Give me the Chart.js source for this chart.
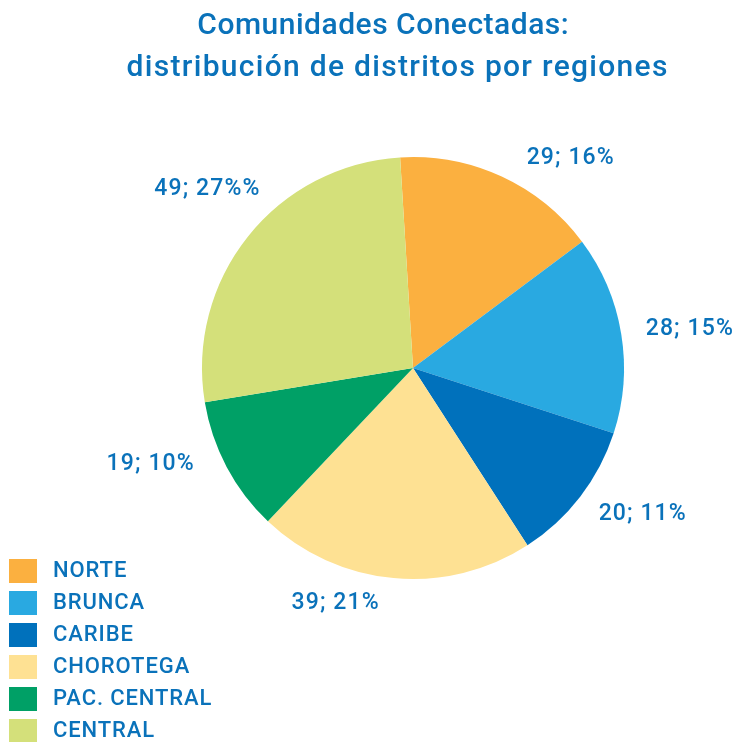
<!DOCTYPE html>
<html><head><meta charset="utf-8">
<script src="https://cdn.jsdelivr.net/npm/chart.js@4.4.1/dist/chart.umd.min.js"></script>
<style>html,body{margin:0;padding:0;background:#fff;}#wrap{width:736px;height:742px;}</style>
</head><body><div id="wrap"><canvas id="c" width="736" height="742"></canvas></div>
<script>
const categories = ['NORTE','BRUNCA','CARIBE','CHOROTEGA','PAC. CENTRAL','CENTRAL'];
const values = [29, 28, 20, 39, 19, 49];
const labelTexts = ['29; 16%','28; 15%','20; 11%','39; 21%','19; 10%','49; 27%%'];
const titleLines = ['Comunidades Conectadas:', 'distribución de distritos por regiones'];

const colors = ['#FBB040','#29A9E1','#0071BC','#FEE193','#00A066','#D4E07A'];
const textColor = '#0A72BA';
const FONT = 'Roboto, "Liberation Sans", Arial, sans-serif';
// label placement style: angle nudge (deg) from slice mid-angle, distance from centre (px)
const labelNudgeDeg = [12, 1.4, -5, 13, 7.8, 2.4];
const labelDist = [262, 279, 272, 248, 280, 273];

function spaced(ctx, text, x, y, sp) {
  ctx.letterSpacing = sp + 'px';
  // compensate trailing spacing when centred
  const off = ctx.textAlign === 'center' ? sp / 2 : 0;
  ctx.fillText(text, x + off, y);
  ctx.letterSpacing = '0px';
}

const overlay = {
  id: 'overlay',
  afterDraw(chart) {
    const ctx = chart.ctx;
    ctx.save();
    ctx.fillStyle = textColor;
    // title
    ctx.font = '500 30px ' + FONT;
    ctx.textAlign = 'center';
    ctx.textBaseline = 'alphabetic';
    spaced(ctx, titleLines[0], 383, 34, 0.5);
    spaced(ctx, titleLines[1], 397, 76, 1.3);
    // data labels
    const meta = chart.getDatasetMeta(0);
    ctx.font = '500 23px ' + FONT;
    ctx.textBaseline = 'middle';
    meta.data.forEach((arc, i) => {
      const mid = (arc.startAngle + arc.endAngle) / 2 + labelNudgeDeg[i] * Math.PI / 180;
      const x = arc.x + labelDist[i] * Math.cos(mid);
      const y = arc.y + labelDist[i] * Math.sin(mid);
      spaced(ctx, labelTexts[i], x, y, 1.1);
    });
    // legend
    ctx.font = '500 22px ' + FONT;
    ctx.textAlign = 'left';
    chart.data.labels.forEach((lab, i) => {
      const y = 559 + i * 32;
      ctx.fillStyle = chart.data.datasets[0].backgroundColor[i];
      ctx.fillRect(9, y, 28, 24);
      ctx.fillStyle = textColor;
      spaced(ctx, lab, 53, y + 12, 0.9);
    });
    ctx.restore();
  }
};

new Chart(document.getElementById('c'), {
  type: 'pie',
  data: { labels: categories, datasets: [{ data: values, backgroundColor: colors, borderWidth: 0 }] },
  options: {
    responsive: false,
    animation: false,
    rotation: -3.5,
    layout: { padding: { top: 157, bottom: 163, left: 202, right: 112 } },
    plugins: { legend: { display: false }, title: { display: false }, tooltip: { enabled: false } }
  },
  plugins: [overlay]
});
</script>
</body></html>
